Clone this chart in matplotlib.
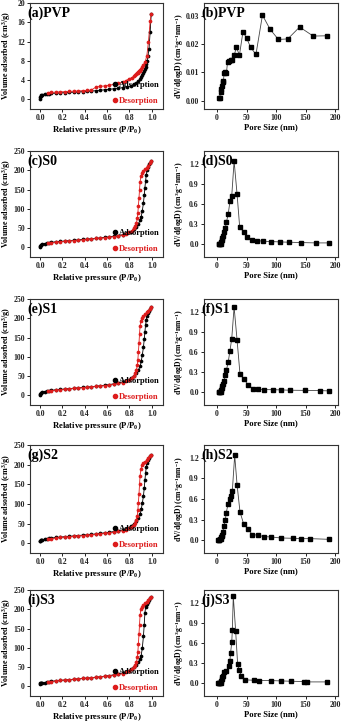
import numpy as np
import matplotlib
matplotlib.use("Agg")
import matplotlib.pyplot as plt
from matplotlib.lines import Line2D
from matplotlib.ticker import FormatStrFormatter, MultipleLocator

RED = "#dd1c1c"

# relative pressure points of the adsorption and desorption branches
P_ADS = [0.001, 0.003, 0.006, 0.01, 0.02, 0.04, 0.06, 0.08, 0.1, 0.14, 0.18, 0.22, 0.26,
         0.3, 0.34, 0.38, 0.42, 0.46, 0.5, 0.54, 0.58, 0.62, 0.66, 0.7, 0.74, 0.78, 0.81,
         0.84, 0.86, 0.88, 0.895, 0.905, 0.915, 0.925, 0.932, 0.938, 0.944, 0.95, 0.957,
         0.965, 0.975, 0.985, 0.995]
P_DES = [0.995, 0.985, 0.97, 0.955, 0.94, 0.925, 0.912, 0.902, 0.895, 0.89, 0.885, 0.88,
         0.875, 0.87, 0.862, 0.852, 0.84, 0.82, 0.8, 0.77, 0.74, 0.7, 0.66, 0.62, 0.58,
         0.54, 0.5, 0.46, 0.42, 0.38, 0.34, 0.3, 0.26, 0.22, 0.18, 0.14, 0.1, 0.07]

# adsorbed volume (cm3/g)
ADS_PVP = [0.1, 0.5, 0.8, 0.95, 1.0, 1.1, 1.15, 1.2, 1.25, 1.3, 1.35, 1.4, 1.45, 1.5, 1.55,
           1.6, 1.7, 1.75, 1.8, 1.9, 2.0, 2.1, 2.2, 2.3, 2.45, 2.6, 2.8, 3.1, 3.4, 3.8, 4.2,
           4.6, 5.0, 5.5, 5.9, 6.3, 6.8, 7.3, 7.9, 9.0, 10.5, 14.0, 17.8]
DES_PVP = [17.8, 16.2, 12, 9.0, 7.8, 7.2, 6.7, 6.4, 6.1, 5.9, 5.8, 5.6, 5.5, 5.4, 5.2, 5.0,
           4.8, 4.5, 4.3, 3.9, 3.6, 3.3, 3.1, 2.95, 2.8, 2.7, 2.55, 1.95, 1.85, 1.8, 1.75,
           1.7, 1.65, 1.6, 1.55, 1.5, 1.45, 1.4]
ADS_S0 = [0, 3, 5, 7, 8.5, 10, 11, 12, 13, 14.5, 15.5, 16.5, 17.5, 18.5, 19.5, 20.5, 21.5,
          22.5, 23.5, 24.5, 26, 27.5, 29, 30, 33, 37, 41, 47, 53, 61, 70, 80, 95, 115, 135,
          155, 172, 188, 200, 208, 215, 220, 224]
DES_S0 = [224, 218, 212, 207, 203, 198, 192, 185, 170, 150, 128, 108, 90, 75, 63, 55, 49,
          43, 39, 35, 32, 30, 28, 26.5, 25, 24, 23, 21.5, 20.5, 19.5, 18.5, 17.5, 16.5,
          15.5, 14.5, 13, 11.5, 10.5]
ADS_S1 = [0, 3, 5, 7, 8.5, 10, 11, 12, 13, 14.5, 15.5, 16.5, 17.5, 18.5, 19.5, 20.5, 21.5,
          22.5, 23.5, 25, 26.5, 28, 30, 32, 35, 39, 44, 50, 57, 65, 75, 88, 105, 125, 145,
          165, 182, 196, 207, 214, 220, 225, 228]
DES_S1 = [228, 224, 220, 215, 210, 205, 200, 193, 180, 160, 135, 112, 93, 78, 66, 57, 50,
          44, 40, 36, 33, 31, 29, 27, 25.5, 24.5, 23.5, 22, 21, 20, 19, 18, 17, 16, 15,
          13.5, 12, 11]
ADS_S2 = [5, 6, 7, 8, 9, 10, 11, 12, 13, 14.5, 15.5, 16.5, 17.5, 18.5, 19.5, 20.5, 21.5,
          22.5, 23.5, 25, 26.5, 28, 29.5, 31, 34, 38, 43, 49, 56, 64, 74, 86, 102, 120, 140,
          160, 178, 194, 205, 212, 218, 222, 225]
DES_S2 = [225, 221, 216, 211, 207, 204, 198, 188, 172, 150, 125, 103, 85, 70, 59, 52, 47,
          42, 38, 34.5, 32, 30, 28, 26.5, 25, 24, 23, 21.5, 20.5, 19.5, 18.5, 17.5, 16.5,
          15.5, 14.5, 13, 11.5, 10.5]
ADS_S3 = [7, 7.5, 8, 8.5, 9, 10, 11, 12, 13, 14.5, 15.5, 16.5, 17.5, 18.5, 19.5, 20.5, 21.5,
          22.5, 23.5, 25, 26.5, 28, 30, 32, 35, 39, 44, 50, 56, 63, 70, 80, 100, 130, 160,
          190, 205, 210, 214, 218, 223, 228, 233]
DES_S3 = [233, 229, 224, 220, 215, 211, 205, 200, 185, 160, 135, 110, 90, 75, 63, 55, 49,
          44, 40, 36, 33, 31, 29, 27.5, 26, 25, 24, 22.5, 21.5, 20.5, 19.5, 18.5, 17.5,
          16.5, 15.5, 14, 12.5, 11.5]

# pore size distributions: pore diameter (nm) and dV/d(logD)
D_PVP = [3.5, 4.5, 6, 7, 8, 9.5, 11, 12, 14, 16, 18, 20, 23, 26, 29, 33, 38, 44, 50, 57, 66,
         77, 90, 104, 120, 140, 163, 186]
V_PVP = [0.001, 0.001, 0.003, 0.004, 0.005, 0.0065, 0.007, 0.0098, 0.01, 0.0098, 0.0138,
         0.014, 0.0142, 0.0145, 0.016, 0.0188, 0.016, 0.0243, 0.0222, 0.0188, 0.0163,
         0.0302, 0.0252, 0.0216, 0.0218, 0.026, 0.0228, 0.0229]
D_S0 = [3, 4, 5, 6, 7, 8, 9, 10, 12, 14, 16, 19, 22, 25, 29, 34, 38.5, 45, 51.5, 60, 68, 78,
        92, 106, 122, 143, 168, 190]
V_S0 = [0, 0, 0.005, 0.01, 0.03, 0.06, 0.09, 0.12, 0.18, 0.24, 0.33, 0.45, 0.64, 0.72, 1.24,
        0.75, 0.25, 0.19, 0.11, 0.06, 0.055, 0.045, 0.04, 0.035, 0.03, 0.025, 0.02, 0.02]
D_S1 = [3, 4, 5, 6, 7, 8, 9, 10, 12, 14, 16, 19, 22, 25, 29, 34, 39, 45, 53, 61, 69, 80, 95,
        108, 124, 149, 174, 190]
V_S1 = [0, 0, 0.005, 0.01, 0.03, 0.06, 0.09, 0.13, 0.17, 0.25, 0.33, 0.45, 0.62, 0.8, 1.27,
        0.78, 0.27, 0.2, 0.11, 0.05, 0.045, 0.04, 0.038, 0.035, 0.03, 0.028, 0.025, 0.02]
D_S2 = [2, 3, 4, 5, 6, 7, 8, 9, 10, 11.5, 14, 15.7, 18.6, 22, 24.4, 26, 30, 34, 39, 45, 52,
        60, 69, 80, 91, 108, 129, 142, 158, 190]
V_S2 = [0, 0, 0, 0.01, 0.02, 0.04, 0.06, 0.08, 0.12, 0.2, 0.29, 0.4, 0.52, 0.6, 0.64, 0.72,
        1.24, 0.81, 0.41, 0.24, 0.16, 0.08, 0.07, 0.05, 0.045, 0.03, 0.025, 0.02, 0.02, 0.01]
D_S3 = [2, 3, 4, 5, 6, 7, 8, 9, 10, 12, 15, 21, 21.8, 23, 25, 26, 27.6, 31.6, 35, 37.4, 41,
        48, 63, 72, 91, 108, 125, 148, 153, 186]
V_S3 = [0, 0, 0, 0.005, 0.01, 0.03, 0.06, 0.09, 0.11, 0.17, 0.18, 0.25, 0.33, 0.45, 0.61,
        0.79, 1.3, 0.78, 0.28, 0.2, 0.11, 0.05, 0.045, 0.04, 0.04, 0.035, 0.03, 0.025, 0.02,
        0.02]

plt.rcParams["font.family"] = ["Liberation Serif", "DejaVu Serif"]
plt.rcParams["font.weight"] = "bold"
plt.rcParams["axes.labelweight"] = "bold"
plt.rcParams["mathtext.fontset"] = "custom"
plt.rcParams["mathtext.rm"] = "Liberation Serif:bold"
plt.rcParams["mathtext.it"] = "Liberation Serif:bold"
plt.rcParams["mathtext.bf"] = "Liberation Serif:bold"

W, H = 346, 723


def make_axes(fig, x0, x1, top, bottom):
    ax = fig.add_axes([x0 / W, 1 - bottom / H, (x1 - x0) / W, (bottom - top) / H])
    for s in ax.spines.values():
        s.set_linewidth(0.8)
        s.set_color("#333333")
    ax.tick_params(direction="out", length=2.5, width=0.7, labelsize=5.6, pad=1.2,
                   colors="#222222")
    return ax


def plot_isotherm(ax, ads, des, title, ymax, ystep, ymin):
    ax.plot(P_ADS, ads, "-o", color="black", lw=0.6, ms=2.7, mew=0)
    ax.plot(P_DES, des, "-o", color=RED, lw=0.6, ms=2.7, mew=0)
    ax.set_xlim(-0.09, 1.1)
    ax.set_ylim(ymin, ymax)
    ax.xaxis.set_major_locator(MultipleLocator(0.2))
    ax.xaxis.set_major_formatter(FormatStrFormatter("%.1f"))
    ax.yaxis.set_major_locator(MultipleLocator(ystep))
    ax.set_xlabel("Relative pressure (P/P$_0$)", fontsize=6.2, labelpad=1)
    ax.set_ylabel("Volume adsorbed (cm$^3$/g)", fontsize=5.8)
    ax.yaxis.set_label_coords(-0.128, 0.5)
    ax.text(-0.02, 0.97, title, transform=ax.transAxes, fontsize=10, fontweight="bold",
            va="top", ha="left")
    handles = [Line2D([], [], marker="o", ls="none", color="black", ms=3),
               Line2D([], [], marker="o", ls="none", color=RED, ms=3)]
    ax.legend(handles, ["Adsorption", "Desorption"], loc="lower right",
              bbox_to_anchor=(1.03, -0.03), frameon=False, fontsize=6,
              handlelength=0.5, handletextpad=0.2, labelspacing=0.9,
              labelcolor=["black", RED])


def plot_pore(ax, d, v, title, ylim, ystep, fmt):
    ax.plot(d, v, "-s", color="#444444", mfc="black", mec="black", lw=0.6, ms=2.3)
    ax.set_xlim(-22, 205)
    ax.set_ylim(*ylim)
    ax.xaxis.set_major_locator(MultipleLocator(50))
    ax.yaxis.set_major_locator(MultipleLocator(ystep))
    ax.yaxis.set_major_formatter(FormatStrFormatter(fmt))
    ax.set_xlabel("Pore Size (nm)", fontsize=6.2, labelpad=1)
    ax.set_ylabel("dV/d(logD) (cm$^3$g$^{-1}$nm$^{-1}$)", fontsize=5.6)
    ax.yaxis.set_label_coords(-0.135, 0.5)
    ax.text(-0.02, 0.97, title, transform=ax.transAxes, fontsize=10, fontweight="bold",
            va="top", ha="left")


def main():
    fig = plt.figure(figsize=(W / 100, H / 100), dpi=100)

    rows = [(3, 109), (151, 257), (299, 405), (445, 553), (590, 696)]
    isotherms = [(ADS_PVP, DES_PVP, "(a)PVP", 20, 4, -2),
                 (ADS_S0, DES_S0, "(c)S0", 250, 50, -25),
                 (ADS_S1, DES_S1, "(e)S1", 250, 50, -25),
                 (ADS_S2, DES_S2, "(g)S2", 250, 50, -25),
                 (ADS_S3, DES_S3, "(i)S3", 250, 50, -25)]
    pores = [(D_PVP, V_PVP, "(b)PVP", (-0.003, 0.0345), 0.01, "%.2f"),
             (D_S0, V_S0, "(d)S0", (-0.19, 1.39), 0.3, "%.1f"),
             (D_S1, V_S1, "(f)S1", (-0.19, 1.39), 0.3, "%.1f"),
             (D_S2, V_S2, "(h)S2", (-0.19, 1.39), 0.3, "%.1f"),
             (D_S3, V_S3, "(j)S3", (-0.19, 1.39), 0.3, "%.1f")]

    for (top, bottom), iso, pore in zip(rows, isotherms, pores):
        ax = make_axes(fig, 30, 163, top, bottom)
        plot_isotherm(ax, *iso)
        ax = make_axes(fig, 204, 338, top, bottom)
        plot_pore(ax, *pore)

    fig.savefig("out.png", dpi=100, facecolor="white")


if __name__ == "__main__":
    main()
